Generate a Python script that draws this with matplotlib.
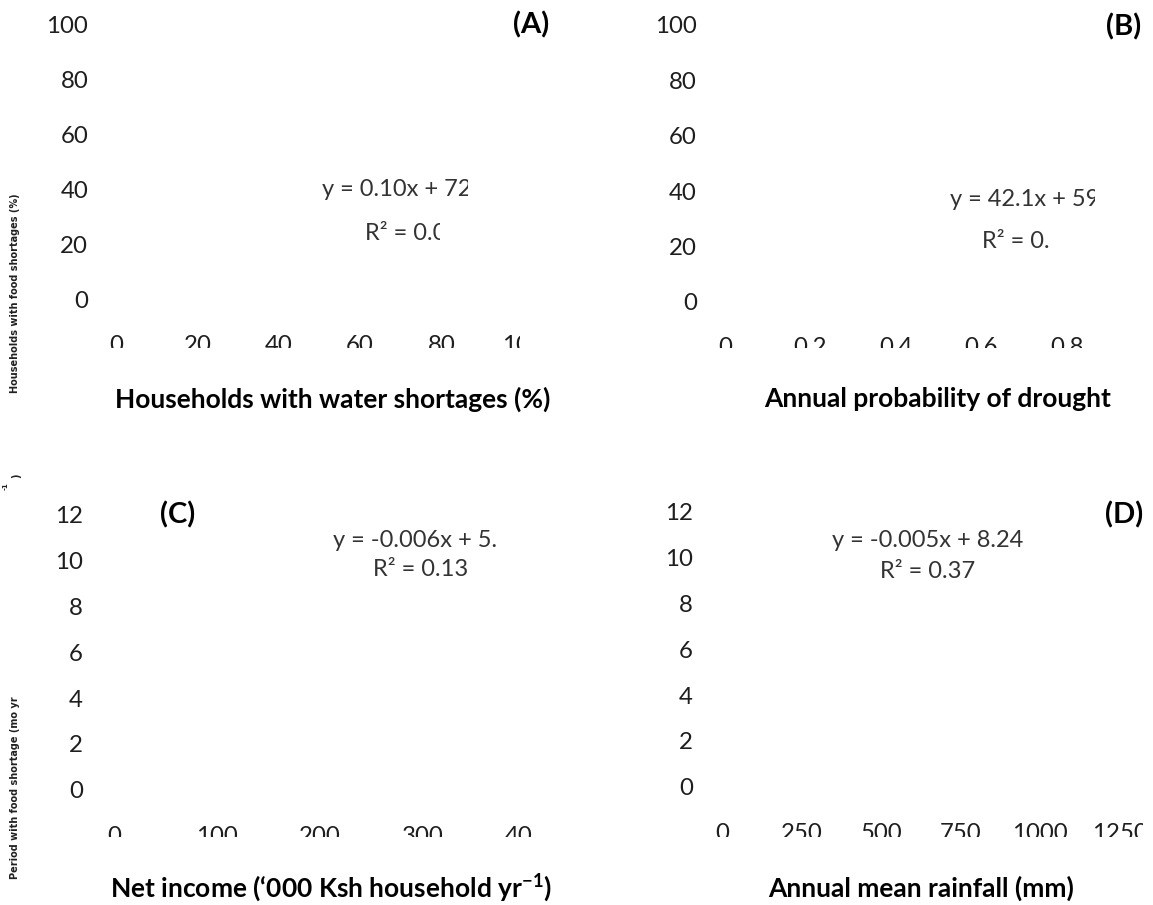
import matplotlib
matplotlib.use('Agg')
import matplotlib.pyplot as plt
from matplotlib.transforms import Bbox, TransformedBbox

W, H = 1153, 905

plt.rcParams['font.family'] = ['Lato', 'DejaVu Sans']
plt.rcParams['mathtext.fontset'] = 'custom'
plt.rcParams['mathtext.rm'] = 'Lato'
plt.rcParams['mathtext.bf'] = 'Lato:bold'

# panel data: ticks, labels, regression text
a_xticks = [0, 20, 40, 60, 80, 100]
a_yticks = [0, 20, 40, 60, 80, 100]
a_xlabel = 'Households with water shortages (%)'
a_eq = ['y = 0.10x + 72', 'R² = 0.0']

b_xticks = [0, 0.2, 0.4, 0.6, 0.8]
b_xticklabels = ['0', '0.2', '0.4', '0.6', '0.8']
b_yticks = [0, 20, 40, 60, 80, 100]
b_xlabel = 'Annual probability of drought'
b_eq = ['y = 42.1x + 59', 'R² = 0.']

c_xticks = [0, 100, 200, 300, 400]
c_yticks = [0, 2, 4, 6, 8, 10, 12]
c_xlabel = 'Net income (‘000 Ksh household yr$^{\\mathbf{-1}}$)'
c_eq = ['y = -0.006x + 5.', 'R² = 0.13']

d_xticks = [0, 250, 500, 750, 1000, 1250]
d_yticks = [0, 2, 4, 6, 8, 10, 12]
d_xlabel = 'Annual mean rainfall (mm)'
d_eq = ['y = -0.005x + 8.24', 'R² = 0.37']

ylab_top = 'Households with food shortages (%)'
ylab_bottom = 'Period with food shortage (mo yr'

fig = plt.figure(figsize=(W / 100, H / 100), dpi=100)


def fx(x):
    return x / W


def fy(y):
    return 1 - y / H


def clipbox(x0, y0, x1, y1):
    # pixel box (image coords, y down) -> clip box in display space
    bb = Bbox.from_extents(fx(x0), fy(y1), fx(x1), fy(y0))
    return TransformedBbox(bb, fig.transFigure)


def panel(box, xlim, ylim, xticks, xticklabels, yticks, ypad, xclip):
    l, t, r, b = box
    ax = fig.add_axes([fx(l), fy(b), fx(r) - fx(l), fy(t) - fy(b)])
    ax.set_xlim(*xlim)
    ax.set_ylim(*ylim)
    ax.set_xticks(xticks, xticklabels)
    ax.set_yticks(yticks, [str(v) for v in yticks])
    for s in ax.spines.values():
        s.set_visible(False)
    ax.patch.set_visible(False)
    ax.tick_params(axis='both', length=0, labelsize=17.3, labelcolor='#1e1e1e')
    ax.tick_params(axis='x', pad=1.5)
    ax.tick_params(axis='y', pad=ypad)
    for lbl in ax.get_xticklabels():
        lbl.set_clip_box(clipbox(0, 0, xclip[0], xclip[1]))
        lbl.set_clip_on(True)
    return ax


axA = panel((100, 11, 547, 333), (-4, 106), (-12, 105), a_xticks,
            [str(v) for v in a_xticks], a_yticks, 8.5, (520, 348))
axB = panel((708, 11, 1118, 335), (-0.04, 0.92), (-12, 105), b_xticks,
            b_xticklabels, b_yticks, 8, (1153, 348))
axC = panel((99, 501, 556, 824), (-15, 430), (-1.5, 12.6), c_xticks,
            [str(v) for v in c_xticks], c_yticks, 11.5, (532, 837))
axD = panel((706, 498, 1142, 821), (-50, 1320), (-1.5, 12.6), d_xticks,
            [str(v) for v in d_xticks], d_yticks, 9.4, (1143, 837))


def eq_text(x, y, s, clip_x):
    t = fig.text(fx(x), fy(y), s, ha='left', va='center', fontsize=17,
                 color='#333333')
    t.set_clip_box(clipbox(0, 0, clip_x, H))
    t.set_clip_on(True)


eq_text(322, 190, a_eq[0], 468)
eq_text(365, 233, a_eq[1], 440)
eq_text(950, 200, b_eq[0], 1095)
eq_text(982, 242, b_eq[1], 1056)
eq_text(333, 540, c_eq[0], 497)
eq_text(373, 570, c_eq[1], W)
eq_text(832, 540, d_eq[0], 1025)
eq_text(880, 572, d_eq[1], W)

# panel letters
for x, y, s in [(531, 25, '(A)'), (1124, 27, '(B)'), (178, 515, '(C)'), (1124, 515, '(D)')]:
    fig.text(fx(x), fy(y), s, ha='center', va='center', fontsize=21,
             fontweight='bold', color='black')

# x axis titles
for x, y, s in [(333, 399, a_xlabel), (938, 399, b_xlabel),
                (331, 888, c_xlabel), (921, 888, d_xlabel)]:
    fig.text(fx(x), fy(y), s, ha='center', va='center', fontsize=19,
             fontweight='bold', color='black')

# small y axis titles on the left edge
fig.text(fx(15), fy(293), ylab_top, rotation=90, ha='center', va='center',
         fontsize=7, fontweight='bold', family='DejaVu Sans', color='#202020')
fig.text(fx(15), fy(788), ylab_bottom, rotation=90, ha='center', va='center',
         fontsize=7, fontweight='bold', family='DejaVu Sans', color='#202020')
fig.text(fx(6), fy(486), '-1', rotation=90, ha='center', va='center',
         fontsize=5, fontweight='bold', family='DejaVu Sans', color='#202020')
fig.text(fx(16), fy(476), ')', rotation=90, ha='center', va='center',
         fontsize=7, fontweight='bold', family='DejaVu Sans', color='#202020')

fig.savefig('out.png', dpi=100, facecolor='white')
